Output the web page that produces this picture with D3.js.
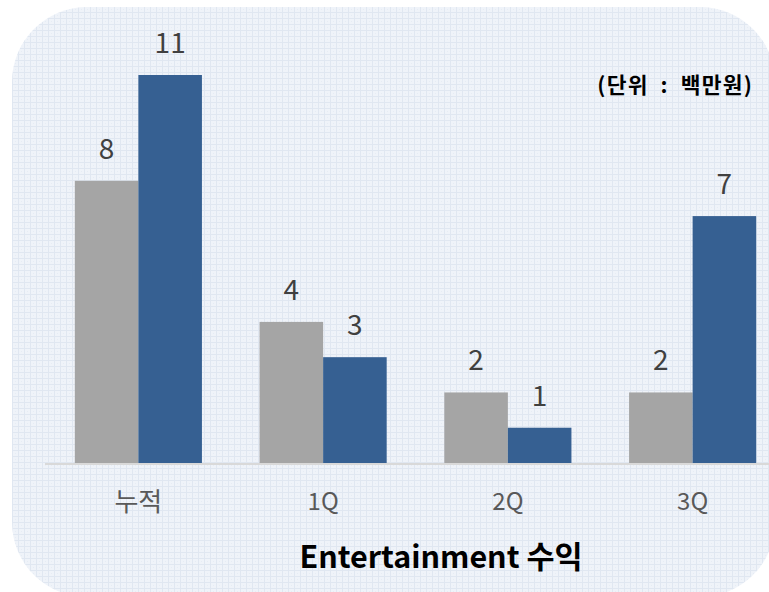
<!DOCTYPE html>
<html><head><meta charset="utf-8">
<script src="https://cdn.jsdelivr.net/npm/d3@7"></script>
<style>body{margin:0;background:#fff}svg{display:block}</style>
</head><body>
<svg id="chart" width="769" height="592"></svg>
<script>
const categories = ["누적", "1Q", "2Q", "3Q"];
const seriesNames = ["prev", "curr"];
const prevValues = [8, 4, 2, 2];
const currValues = [11, 3, 1, 7];
const titleText = "Entertainment 수익";
const unitText = "(단위\u2002:\u2002백만원)";

const W = 769, H = 592;
const svg = d3.select("#chart");
const font = "'Noto Sans CJK KR', 'Noto Sans', sans-serif";

const defs = svg.append("defs");
const pat = defs.append("pattern").attr("id", "grid").attr("patternUnits", "userSpaceOnUse")
  .attr("width", 6).attr("height", 6);
pat.append("rect").attr("width", 6).attr("height", 6).attr("fill", "#eff3f9");
pat.append("path").attr("d", "M0 0.5H6M0.5 0V6").attr("stroke", "#e0e7f1").attr("stroke-width", 1);
pat.append("rect").attr("x", 3).attr("y", 3).attr("width", 1).attr("height", 1).attr("fill", "#e6ecf4");

svg.append("rect").attr("x", 12).attr("y", 7).attr("width", 763).attr("height", 590)
  .attr("rx", 75).attr("ry", 75).attr("fill", "url(#grid)");

const baseY = 463;
const y = d3.scaleLinear().domain([0, 11]).range([baseY, 75]);
const x0 = d3.scaleBand().domain(categories).range([46, 785]).paddingInner(0.312).paddingOuter(0.156);
const x1 = d3.scaleBand().domain(seriesNames).range([0, x0.bandwidth()]);
const colors = {prev: "#a5a5a5", curr: "#366092"};

const data = categories.map((c, i) => ({cat: c, vals: [
  {s: "prev", v: prevValues[i]}, {s: "curr", v: currValues[i]}]}));

const g = svg.append("g");
const groups = g.selectAll("g.grp").data(data).join("g").attr("class", "grp")
  .attr("transform", d => `translate(${x0(d.cat)},0)`);
groups.selectAll("rect").data(d => d.vals).join("rect")
  .attr("x", d => x1(d.s)).attr("width", x1.bandwidth())
  .attr("y", d => y(d.v)).attr("height", d => baseY - y(d.v))
  .attr("fill", d => colors[d.s]);
groups.selectAll("text").data(d => d.vals).join("text")
  .attr("x", d => x1(d.s) + x1.bandwidth() / 2)
  .attr("y", d => y(d.v) - 22)
  .attr("text-anchor", "middle").attr("font-family", font).attr("font-size", 28)
  .attr("fill", "#404040").text(d => d.v);

// x axis
const xAxis = d3.axisBottom(x0).tickSize(0).tickPadding(0);
const ax = svg.append("g").attr("transform", `translate(0,${baseY})`).call(xAxis);
ax.select(".domain").remove();
svg.append("line").attr("x1", 45).attr("x2", 769).attr("y1", baseY + 1).attr("y2", baseY + 1)
  .attr("stroke", "#d9d9d9").attr("stroke-width", 2);
ax.selectAll(".tick text").attr("y", d => d === "누적" ? 48 : 47).attr("dy", null)
  .attr("font-family", font).attr("font-size", d => d === "누적" ? 26 : 24)
  .attr("fill", "#595959");

svg.append("text").attr("x", 441).attr("y", 568).attr("text-anchor", "middle")
  .attr("font-family", font).attr("font-weight", "bold").attr("font-size", 30.5)
  .attr("fill", "#000").text(titleText);

svg.append("text").attr("x", 753).attr("y", 93).attr("text-anchor", "end")
  .attr("font-family", font).attr("font-weight", "bold").attr("font-size", 21.5)
  .attr("letter-spacing", 1.2)
  .attr("fill", "#000").text(unitText);
</script>
</body></html>
